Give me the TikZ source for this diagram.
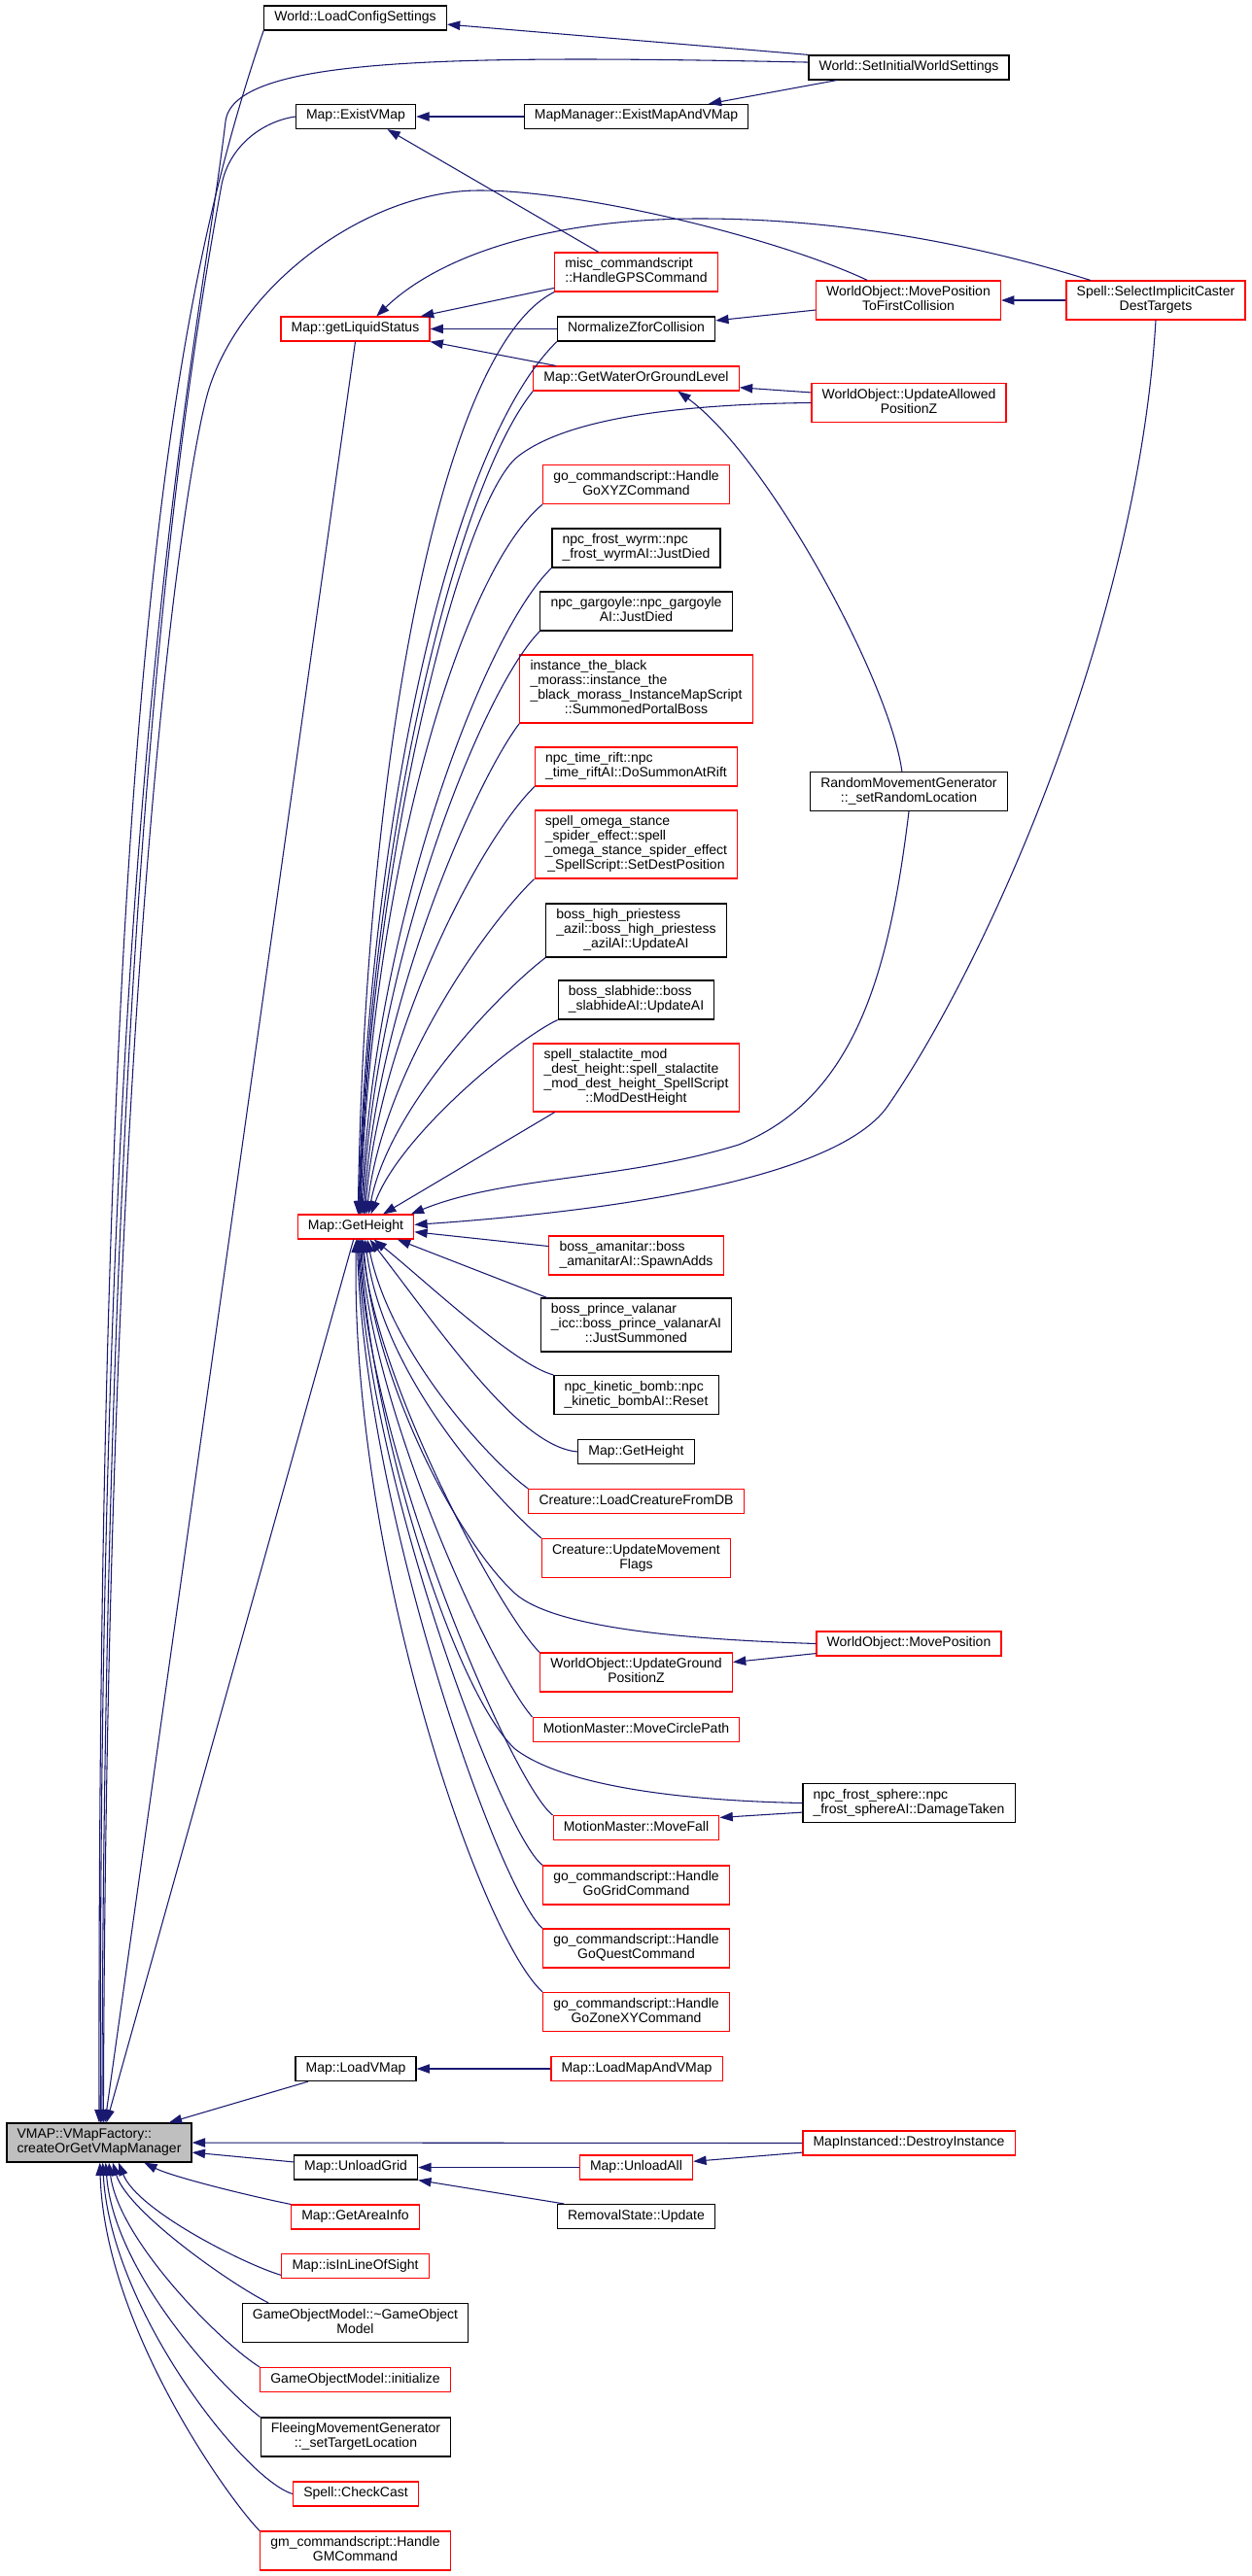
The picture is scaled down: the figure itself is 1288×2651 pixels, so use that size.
\documentclass[tikz,border=0pt]{standalone}
\usepackage{fontspec}
\setmainfont{Liberation Sans}
\usetikzlibrary{arrows.meta}

\definecolor{callblue}{RGB}{25,25,112}
\definecolor{rootgray}{RGB}{191,191,191}
% all lines but the last one left aligned, the last one centred
\newcommand{\dlabel}[2]{\begin{tabular}{@{}l@{}}#1\multicolumn{1}{@{}c@{}}{#2}\end{tabular}}

\tikzset{
  func/.style={shape=rectangle, draw=black, fill=white, line width=0.9pt, inner xsep=8pt, inner ysep=3.75pt, font=\fontsize{10.5}{11.25}\selectfont},
  funcred/.style={func, draw=red},
  funcroot/.style={func, fill=rootgray},
  call/.style={draw=callblue, line width=0.8pt, -{Triangle[length=10pt, width=7pt]}}
}

\begin{document}
\begin{tikzpicture}[x=0.75pt, y=-0.75pt]
			\path[fill=white] (0,0) rectangle (1288,2651);
			\useasboundingbox (0,0) rectangle (1288,2651);
			% Functions:
			\node[func] (loadcfg) at (365.5,18.5) {\dlabel{}{World::LoadConfigSettings}};
			\node[func] (setinit) at (935,69.5) {\dlabel{}{World::SetInitialWorldSettings}};
			\node[func] (existvmap) at (366,120) {\dlabel{}{Map::ExistVMap}};
			\node[func] (mgrexist) at (654.5,120) {\dlabel{}{MapManager::ExistMapAndVMap}};
			\node[funcred] (gpscmd) at (654.5,280) {\dlabel{misc\_commandscript\\}{::HandleGPSCommand}};
			\node[funcred] (movefirst) at (934.5,309) {\dlabel{WorldObject::MovePosition\\}{ToFirstCollision}};
			\node[funcred] (selcaster) at (1189,309) {\dlabel{Spell::SelectImplicitCaster\\}{DestTargets}};
			\node[funcred] (liquid) at (365.5,338.5) {\dlabel{}{Map::getLiquidStatus}};
			\node[func] (normz) at (654.5,338.5) {\dlabel{}{NormalizeZforCollision}};
			\node[funcred] (waterlvl) at (654.5,389.5) {\dlabel{}{Map::GetWaterOrGroundLevel}};
			\node[funcred] (allowedz) at (935,414.5) {\dlabel{WorldObject::UpdateAllowed\\}{PositionZ}};
			\node[funcred] (goxyz) at (654.5,498.5) {\dlabel{go\_commandscript::Handle\\}{GoXYZCommand}};
			\node[func] (wyrm) at (654.5,564) {\dlabel{npc\_frost\_wyrm::npc\\}{\_frost\_wyrmAI::JustDied}};
			\node[func] (gargoyle) at (654.5,629) {\dlabel{npc\_gargoyle::npc\_gargoyle\\}{AI::JustDied}};
			\node[funcred] (morass) at (654.5,709) {\dlabel{instance\_the\_black\\\_morass::instance\_the\\\_black\_morass\_InstanceMapScript\\}{::SummonedPortalBoss}};
			\node[funcred] (timerift) at (654.5,789) {\dlabel{npc\_time\_rift::npc\\}{\_time\_riftAI::DoSummonAtRift}};
			\node[func] (randmove) at (935,814.5) {\dlabel{RandomMovementGenerator\\}{::\_setRandomLocation}};
			\node[funcred] (omega) at (654.5,869) {\dlabel{spell\_omega\_stance\\\_spider\_effect::spell\\\_omega\_stance\_spider\_effect\\}{\_SpellScript::SetDestPosition}};
			\node[func] (azil) at (654.5,957.5) {\dlabel{boss\_high\_priestess\\\_azil::boss\_high\_priestess\\}{\_azilAI::UpdateAI}};
			\node[func] (slabhide) at (654.5,1029) {\dlabel{boss\_slabhide::boss\\}{\_slabhideAI::UpdateAI}};
			\node[funcred] (stalactite) at (654.5,1109) {\dlabel{spell\_stalactite\_mod\\\_dest\_height::spell\_stalactite\\\_mod\_dest\_height\_SpellScript\\}{::ModDestHeight}};
			\node[funcred] (height) at (366,1262.5) {\dlabel{}{Map::GetHeight}};
			\node[funcred] (amanitar) at (654.5,1292) {\dlabel{boss\_amanitar::boss\\}{\_amanitarAI::SpawnAdds}};
			\node[func] (valanar) at (654.5,1363.5) {\dlabel{boss\_prince\_valanar\\\_icc::boss\_prince\_valanarAI\\}{::JustSummoned}};
			\node[func] (kinetic) at (654.5,1435.5) {\dlabel{npc\_kinetic\_bomb::npc\\}{\_kinetic\_bombAI::Reset}};
			\node[func] (heightb) at (654.5,1494) {\dlabel{}{Map::GetHeight}};
			\node[funcred] (loadcreature) at (654.5,1545) {\dlabel{}{Creature::LoadCreatureFromDB}};
			\node[funcred] (moveflags) at (654.5,1603.5) {\dlabel{Creature::UpdateMovement\\}{Flags}};
			\node[funcred] (movepos) at (935,1691.5) {\dlabel{}{WorldObject::MovePosition}};
			\node[funcred] (groundz) at (654.5,1721) {\dlabel{WorldObject::UpdateGround\\}{PositionZ}};
			\node[funcred] (circlepath) at (654.5,1780) {\dlabel{}{MotionMaster::MoveCirclePath}};
			\node[func] (sphere) at (935,1855.5) {\dlabel{npc\_frost\_sphere::npc\\}{\_frost\_sphereAI::DamageTaken}};
			\node[funcred] (movefall) at (654.5,1881) {\dlabel{}{MotionMaster::MoveFall}};
			\node[funcred] (gogrid) at (654.5,1940) {\dlabel{go\_commandscript::Handle\\}{GoGridCommand}};
			\node[funcred] (goquest) at (654.5,2005) {\dlabel{go\_commandscript::Handle\\}{GoQuestCommand}};
			\node[funcred] (gozone) at (654.5,2070.5) {\dlabel{go\_commandscript::Handle\\}{GoZoneXYCommand}};
			\node[func] (loadvmap) at (366,2129) {\dlabel{}{Map::LoadVMap}};
			\node[funcred] (loadmapvmap) at (655,2129) {\dlabel{}{Map::LoadMapAndVMap}};
			\node[funcroot] (vmap) at (102,2205) {\dlabel{VMAP::VMapFactory::\\}{createOrGetVMapManager}};
			\node[funcred] (destroy) at (935,2205.5) {\dlabel{}{MapInstanced::DestroyInstance}};
			\node[func] (unloadgrid) at (366,2230.5) {\dlabel{}{Map::UnloadGrid}};
			\node[funcred] (unloadall) at (654.5,2230.5) {\dlabel{}{Map::UnloadAll}};
			\node[funcred] (areainfo) at (365.5,2281.5) {\dlabel{}{Map::GetAreaInfo}};
			\node[func] (removal) at (654.5,2281) {\dlabel{}{RemovalState::Update}};
			\node[funcred] (lineofsight) at (365.5,2332) {\dlabel{}{Map::isInLineOfSight}};
			\node[func] (gomodeldtor) at (365.5,2390.5) {\dlabel{GameObjectModel::\textasciitilde GameObject\\}{Model}};
			\node[funcred] (gomodelinit) at (365.5,2449) {\dlabel{}{GameObjectModel::initialize}};
			\node[func] (fleeing) at (366,2508) {\dlabel{FleeingMovementGenerator\\}{::\_setTargetLocation}};
			\node[funcred] (checkcast) at (366,2566.5) {\dlabel{}{Spell::CheckCast}};
			\node[funcred] (gmcmd) at (365.5,2625) {\dlabel{gm\_commandscript::Handle\\}{GMCommand}};

			% Calls into VMAP::VMapFactory::createOrGetVMapManager:
			\draw[call] (loadcfg.south west) .. controls (180,300) and (100,700) .. (vmap.90);
			\draw[call] (setinit.177) .. controls (450,56) and (240,60) .. (232,125) .. controls (202,375) and (100,800) .. (vmap.86);
			\draw[call] (existvmap.west) .. controls (270,125) and (236,150) .. (228,190) .. controls (190,400) and (108,900) .. (vmap.82);
			\draw[call] (movefirst.154) .. controls (800,245) and (600,196) .. (493,196) .. controls (380,196) and (250,290) .. (215,400) .. controls (190,480) and (110,1000) .. (vmap.78);
			\draw[call] (liquid.south) -- (vmap.74);
			\draw[call] (height.-100) -- (vmap.70);
			\draw[call] (loadvmap.195) -- (vmap.16);
			\draw[call] (destroy.west) -- (vmap.east);
			\draw[call] (unloadgrid.175) -- (vmap.-6);
			\draw[call] (areainfo.north west) .. controls +(-40,-8) and +(30,15) .. (vmap.-24);
			\draw[call] (lineofsight.187) .. controls +(-35,-10) and +(20,50) .. (vmap.-46);
			\draw[call] (gomodeldtor.167) .. controls +(-40,-20) and +(15,50) .. (vmap.-56);
			\draw[call] (gomodelinit.north west) .. controls +(-40,-25) and +(10,80) .. (vmap.-64);
			\draw[call] (fleeing.north west) .. controls +(-45,-35) and +(8,110) .. (vmap.-72);
			\draw[call] (checkcast.west) .. controls +(-50,-15) and +(8,150) .. (vmap.-80);
			\draw[call] (gmcmd.north west) .. controls +(-30,-30) and +(5,170) .. (vmap.-88);

			% Top part:
			\draw[call] (setinit.north west) -- (loadcfg.-4);
			\draw[call] (setinit.190) -- (mgrexist.10);
			\draw[call] (mgrexist.west) -- (existvmap.east);
			\draw[call] (gpscmd.152) -- (existvmap.-22);
			\draw[call] (gpscmd.191) -- (liquid.11);
			\draw[call] (normz.west) -- (liquid.east);
			\draw[call] (waterlvl.171) -- (liquid.south east);
			\draw[call] (selcaster.163) .. controls (1000,250) and (860,225) .. (720,225) .. controls (560,225) and (450,265) .. (liquid.31);
			\draw[call] (movefirst.186) -- (normz.6);
			\draw[call] (selcaster.west) -- (movefirst.east);
			\draw[call] (allowedz.174) -- (waterlvl.-5);
			\draw[call] (randmove.109) .. controls (915,700) and (790,470) .. (waterlvl.-17);

			% Calls into Map::GetHeight from above:
			\draw[call] (gpscmd.south west) .. controls +(-120,60) and +(7,-450) .. (height.80);
			\draw[call] (normz.south west) .. controls +(-111,109) and +(11,-400) .. (height.78);
			\draw[call] (waterlvl.south west) .. controls +(-80,100) and +(11,-380) .. (height.75);
			\draw[call] (allowedz.west) .. controls (700,416) and (580,430) .. (530,472) .. controls (470,530) and (380,900) .. (height.72);
			\draw[call] (goxyz.south west) .. controls +(-85,71) and +(12,-350) .. (height.70);
			\draw[call] (wyrm.south west) .. controls +(-69,66) and +(13,-300) .. (height.66);
			\draw[call] (gargoyle.south west) .. controls +(-60,61) and +(13,-260) .. (height.62);
			\draw[call] (morass.south west) .. controls +(-43,56) and +(14,-220) .. (height.58);
			\draw[call] (timerift.south west) .. controls +(-53,51) and +(15,-190) .. (height.54);
			\draw[call] (omega.south west) .. controls +(-48,46) and +(18,-150) .. (height.50);
			\draw[call] (azil.south west) .. controls +(-46,35) and +(21,-110) .. (height.45);
			\draw[call] (slabhide.south west) .. controls +(-44,21) and +(29,-80) .. (height.40);
			\draw[call] (stalactite.203) -- (height.25);
			\draw[call] (randmove.south) .. controls (915,1000) and (880,1130) .. (760,1178) .. controls (640,1215) and (520,1210) .. (height.13);
			\draw[call] (selcaster.south) .. controls (1170,650) and (1010,1000) .. (912,1140) .. controls (860,1210) and (650,1245) .. (height.2);

			% Calls into Map::GetHeight from below:
			\draw[call] (amanitar.174) -- (height.-5);
			\draw[call] (valanar.163) -- (height.-17);
			\draw[call] (kinetic.north west) .. controls +(-40,-10) and +(50,40) .. (height.-35);
			\draw[call] (heightb.west) .. controls +(-60,-5) and +(77,100) .. (height.-42);
			\draw[call] (loadcreature.north west) .. controls +(-35,-25) and +(25,120) .. (height.-48);
			\draw[call] (moveflags.north west) .. controls +(-35,-30) and +(20,150) .. (height.-54);
			\draw[call] (movepos.west) .. controls (700,1687) and (570,1675) .. (530,1640) .. controls (470,1585) and (385,1420) .. (height.-60);
			\draw[call] (groundz.north west) .. controls +(-40,-40) and +(15,150) .. (height.-64);
			\draw[call] (circlepath.north west) .. controls +(-40,-45) and +(12,180) .. (height.-68);
			\draw[call] (sphere.west) .. controls (700,1853) and (580,1838) .. (530,1800) .. controls (470,1745) and (383,1480) .. (height.-72);
			\draw[call] (movefall.north west) .. controls +(-40,-30) and +(10,220) .. (height.-76);
			\draw[call] (gogrid.north west) .. controls +(-40,-30) and +(10,250) .. (height.-80);
			\draw[call] (goquest.north west) .. controls +(-45,-40) and +(8,280) .. (height.-84);
			\draw[call] (gozone.north west) .. controls +(-65,-60) and +(-6,325) .. (height.-88);

			% Other calls:
			\draw[call] (movepos.186) -- (groundz.6);
			\draw[call] (sphere.185) -- (movefall.7);
			\draw[call] (loadmapvmap.west) -- (loadvmap.east);
			\draw[call] (unloadall.west) -- (unloadgrid.east);
			\draw[call] (removal.170) -- (unloadgrid.south east);
			\draw[call] (destroy.185) -- (unloadall.6);
		\end{tikzpicture}
\end{document}
